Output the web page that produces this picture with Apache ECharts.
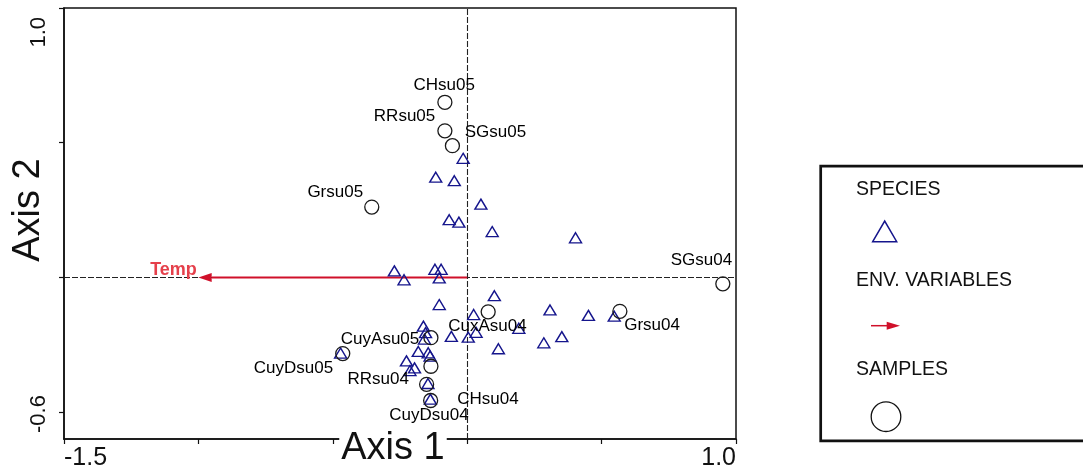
<!DOCTYPE html>
<html>
<head>
<meta charset="utf-8">
<script src="https://cdn.jsdelivr.net/npm/echarts@6/dist/echarts.min.js"></script>
<style>
  html, body { margin: 0; padding: 0; background: #fff; }
  #chart { width: 1083px; height: 476px; }
</style>
</head>
<body>
<div id="chart"></div>
<script>
// ---- Sample scores (circles) ----
const sampleNames = ['CHsu05', 'RRsu05', 'SGsu05', 'Grsu05', 'SGsu04', 'Grsu04',
                     'CuxAsu04', 'CuyAsu05', 'CuyDsu05', 'CHsu04', 'RRsu04', 'CuyDsu04'];
const sampleAxis1 = [-0.083, -0.083, -0.055, -0.355, 0.951, 0.568,
                      0.078, -0.135, -0.463, -0.135, -0.151, -0.136];
const sampleAxis2 = [0.650, 0.544, 0.489, 0.261, -0.024, -0.126,
                     -0.128, -0.224, -0.283, -0.330, -0.397, -0.457];

// ---- Species scores (triangles) ----
const speciesAxis1 = [-0.015, -0.117, -0.048, 0.051, -0.067, -0.031, 0.093, 0.403,
                      -0.271, -0.235, -0.120, -0.097, -0.104, -0.104, 0.101, 0.024,
                       0.308, 0.451, 0.547, -0.163, -0.155, -0.159, 0.192, 0.033,
                       0.004, -0.059, 0.352, 0.285, 0.116, -0.182, -0.145, -0.138,
                      -0.226, -0.196, -0.213, -0.146, -0.137, -0.471];
const speciesAxis2 = [0.442, 0.372, 0.359, 0.272, 0.214, 0.205, 0.170, 0.147,
                      0.024, -0.009, 0.030, 0.030, -0.002, -0.101, -0.068, -0.138,
                     -0.121, -0.141, -0.144, -0.181, -0.205, -0.229, -0.189, -0.204,
                     -0.222, -0.219, -0.220, -0.243, -0.265, -0.275, -0.280, -0.292,
                     -0.310, -0.336, -0.346, -0.394, -0.452, -0.281];

// ---- Environmental variable (biplot arrow) ----
const envNames = ['Temp'];
const envAxis1 = [-1.0];
const envAxis2 = [0.0];

// ---- Axis ranges and labelled ends ----
const xRange = [-1.5, 1.0];
const yRange = [-0.6, 1.0];
const xTickValues = [-1.5, -1.0, -0.5, 0, 0.5, 1.0];
const yTickValues = [-0.5, 0, 0.5, 1.0];
const xLabelValues = [-1.5, 1.0];
const yLabelValues = [-0.6, 1.0];
const axisTitles = ['Axis 1', 'Axis 2'];
const legendTitles = ['SPECIES', 'ENV. VARIABLES', 'SAMPLES'];

// Where each sample name sits relative to its circle centre: [align, dx, dy]
const sampleLabelPlacement = {
  CHsu05:   ['center', 0, -16],
  RRsu05:   ['right', -9, -14],
  SGsu05:   ['left', 13, -13],
  Grsu05:   ['right', -8, -14],
  SGsu04:   ['right', 10, -23],
  Grsu04:   ['left', 5, 15],
  CuxAsu04: ['center', 0, 15.5],
  CuyAsu05: ['right', -11, 2],
  CuyDsu05: ['right', -9, 15],
  CHsu04:   ['left', 27, 34],
  RRsu04:   ['right', -17, -4],
  CuyDsu04: ['center', -1, 15]
};

const FONT = '"Liberation Sans", Arial, Helvetica, sans-serif';
const NAVY = '#15158c';
const RED = '#d0102a';
const INK = '#111';
const CIRCLE_SIZE = 14;

const fmt = v => Number(v).toFixed(1);

const speciesData = speciesAxis1.map((x, i) => [x, speciesAxis2[i]]);
const sampleData = sampleNames.map((n, i) => {
  const p = sampleLabelPlacement[n];
  const half = CIRCLE_SIZE / 2;
  return {
    name: n,
    value: [sampleAxis1[i], sampleAxis2[i]],
    // label position is measured from the symbol's top-left corner
    label: { position: [half + p[1], half + p[2]], align: p[0], verticalAlign: 'middle' }
  };
});
const envData = envAxis1.map((x, i) => [x, envAxis2[i]]);

const chart = echarts.init(document.getElementById('chart'), null, { renderer: 'canvas' });

const baseY = {
  type: 'value', min: yRange[0], max: yRange[1], position: 'left',
  splitLine: { show: false }
};
const baseX = {
  type: 'value', min: xRange[0], max: xRange[1], position: 'bottom',
  splitLine: { show: false }
};

const option = {
  animation: false,
  backgroundColor: '#fff',
  grid: {
    left: 64, right: 347, top: 8, bottom: 37,
    show: true, borderColor: INK, borderWidth: 1.5, backgroundColor: 'transparent'
  },
  xAxis: [
    Object.assign({}, baseX, {
      interval: 0.5,
      axisLine: { show: true, onZero: false, lineStyle: { color: INK, width: 1.5 } },
      axisTick: { show: true, customValues: xTickValues, length: 5, lineStyle: { color: INK, width: 1.2 } },
      axisLabel: {
        customValues: [xLabelValues[0]], formatter: fmt, align: 'left', verticalAlign: 'top',
        margin: 7, fontSize: 25, fontFamily: FONT, color: INK
      }
    }),
    Object.assign({}, baseX, {
      axisLine: { show: false }, axisTick: { show: false },
      axisLabel: {
        customValues: [xLabelValues[1]], formatter: fmt, align: 'right', verticalAlign: 'top',
        margin: 7, fontSize: 25, fontFamily: FONT, color: INK
      }
    })
  ],
  yAxis: [
    Object.assign({}, baseY, {
      axisLine: { show: true, onZero: false, lineStyle: { color: INK, width: 1.5 } },
      axisTick: { show: true, customValues: yTickValues, length: 5, lineStyle: { color: INK, width: 1.2 } },
      axisLabel: {
        customValues: [yLabelValues[0]], formatter: fmt, rotate: 90,
        align: 'left', verticalAlign: 'bottom', padding: [0, 0, 0, 6],
        margin: 14, fontSize: 22, fontFamily: FONT, color: INK
      }
    }),
    Object.assign({}, baseY, {
      axisLine: { show: false }, axisTick: { show: false },
      axisLabel: {
        customValues: [yLabelValues[1]], formatter: fmt, rotate: 90,
        align: 'right', verticalAlign: 'bottom', padding: [0, 9, 0, 0],
        margin: 14, fontSize: 22, fontFamily: FONT, color: INK
      }
    })
  ],
  series: [
    {
      // dashed zero lines through the origin
      type: 'scatter', data: [], z: 1, silent: true,
      markLine: {
        z: 1, silent: true, symbol: ['none', 'none'], animation: false,
        label: { show: false },
        lineStyle: { color: '#222', width: 1.1, type: [6, 2] },
        emphasis: { disabled: true },
        data: [{ xAxis: 0 }, { yAxis: 0 }]
      }
    },
    {
      // environmental variable arrow
      type: 'custom', z: 3, silent: true,
      data: envData,
      renderItem(params, api) {
        const o = api.coord([0, 0]);
        const t = api.coord([api.value(0), api.value(1)]);
        const ang = Math.atan2(t[1] - o[1], t[0] - o[0]);
        const len = 13.3, hw = 4.5;
        const bx = t[0] - len * Math.cos(ang), by = t[1] - len * Math.sin(ang);
        const nx = -Math.sin(ang), ny = Math.cos(ang);
        return {
          type: 'group',
          children: [
            { type: 'line', shape: { x1: o[0], y1: o[1], x2: bx, y2: by },
              style: { stroke: RED, lineWidth: 2 } },
            { type: 'polygon',
              shape: { points: [[t[0], t[1]], [bx + nx * hw, by + ny * hw], [bx - nx * hw, by - ny * hw]] },
              style: { fill: RED } },
            { type: 'text', x: t[0] - 1.6, y: t[1] - 7.2,
              style: { text: envNames[params.dataIndex], align: 'right', verticalAlign: 'middle',
                       fontSize: 18, fontWeight: 'bold', fontFamily: FONT, fill: '#e5404b' } }
          ]
        };
      }
    },
    {
      name: 'SPECIES', type: 'scatter', z: 4, silent: true,
      symbol: 'triangle', symbolSize: [12, 10],
      itemStyle: { color: 'transparent', borderColor: NAVY, borderWidth: 1.4, opacity: 1 },
      emphasis: { disabled: true },
      data: speciesData
    },
    {
      name: 'SAMPLES', type: 'scatter', z: 5, silent: true,
      symbol: 'circle', symbolSize: CIRCLE_SIZE,
      itemStyle: { color: 'rgba(255,255,255,0)', borderColor: '#1a1a1a', borderWidth: 1.3, opacity: 1 },
      emphasis: { disabled: true },
      label: {
        show: true, formatter: '{b}', opacity: 1,
        fontSize: 17, fontFamily: FONT, color: '#000',
        textBorderWidth: 0
      },
      labelLayout: { hideOverlap: false },
      data: sampleData
    }
  ],
  graphic: [
    // axis titles
    { type: 'text', x: 393, y: 449, z: 10,
      style: { text: axisTitles[0], align: 'center', verticalAlign: 'middle',
               fontSize: 38, fontFamily: FONT, fill: INK, backgroundColor: '#fff', padding: [0, 2] } },
    { type: 'text', x: 29, y: 210, rotation: Math.PI / 2, z: 10,
      style: { text: axisTitles[1], align: 'center', verticalAlign: 'middle',
               fontSize: 38, fontFamily: FONT, fill: INK } },
    // legend box
    { type: 'rect', shape: { x: 820.7, y: 166.2, width: 300, height: 274.6 },
      style: { fill: '#fff', stroke: INK, lineWidth: 2.7 } },
    { type: 'text', x: 856, y: 190,
      style: { text: legendTitles[0], verticalAlign: 'middle', fontSize: 19.5, fontFamily: FONT, fill: INK } },
    { type: 'polygon', shape: { points: [[872.7, 241.7], [884.7, 221], [896.7, 241.7]] },
      style: { fill: 'transparent', stroke: NAVY, lineWidth: 1.5 } },
    { type: 'text', x: 856, y: 280.7,
      style: { text: legendTitles[1], verticalAlign: 'middle', fontSize: 19.5, fontFamily: FONT, fill: INK } },
    { type: 'line', shape: { x1: 871, y1: 325.7, x2: 887, y2: 325.7 },
      style: { stroke: RED, lineWidth: 1.5 } },
    { type: 'polygon', shape: { points: [[886.7, 321.7], [900, 325.7], [886.7, 329.7]] },
      style: { fill: RED } },
    { type: 'text', x: 856, y: 370,
      style: { text: legendTitles[2], verticalAlign: 'middle', fontSize: 19.5, fontFamily: FONT, fill: INK } },
    { type: 'circle', shape: { cx: 886, cy: 416.7, r: 14.8 },
      style: { fill: 'transparent', stroke: INK, lineWidth: 1.3 } }
  ]
};

chart.setOption(option);
</script>
</body>
</html>
